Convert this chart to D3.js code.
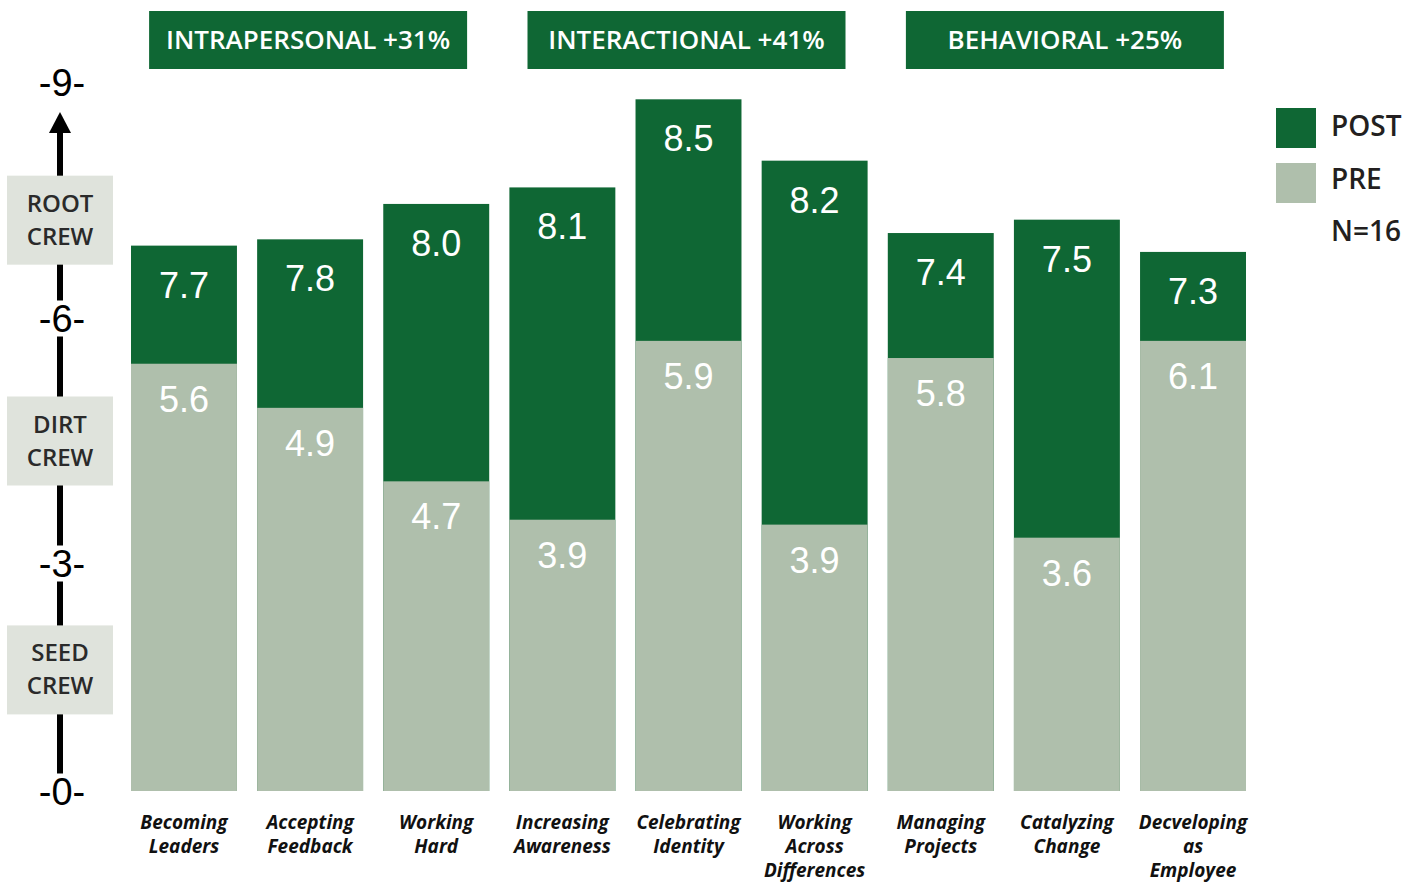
<!DOCTYPE html>
<html>
<head>
<meta charset="utf-8">
<script src="https://cdn.jsdelivr.net/npm/d3@7"></script>
<style>
  body { margin: 0; background: #fff; }
  svg { display: block; }
</style>
</head>
<body>
<div id="chart"></div>
<script>
// competency scores, pre vs post

const categories = [
  ["Becoming", "Leaders"],
  ["Accepting", "Feedback"],
  ["Working", "Hard"],
  ["Increasing", "Awareness"],
  ["Celebrating", "Identity"],
  ["Working", "Across", "Differences"],
  ["Managing", "Projects"],
  ["Catalyzing", "Change"],
  ["Decveloping", "as", "Employee"]
];

// bar heights as drawn against the axis
const postHeight = [6.92, 7.00, 7.45, 7.66, 8.78, 8.00, 7.08, 7.25, 6.84];
const preHeight  = [5.44, 4.90, 4.00, 3.53, 5.72, 3.47, 5.51, 3.31, 5.72];

// printed values
const postLabel = ["7.7", "7.8", "8.0", "8.1", "8.5", "8.2", "7.4", "7.5", "7.3"];
const preLabel  = ["5.6", "4.9", "4.7", "3.9", "5.9", "3.9", "5.8", "3.6", "6.1"];

const groups = [
  { name: "INTRAPERSONAL +31%", from: 0, to: 2 },
  { name: "INTERACTIONAL +41%", from: 3, to: 5 },
  { name: "BEHAVIORAL +25%",    from: 6, to: 8 }
];

const yTicks = [0, 3, 6, 9];
const crews = [["ROOT", "CREW"], ["DIRT", "CREW"], ["SEED", "CREW"]];
const crewMid = [7.25, 4.5, 1.6];

const legendItems = ["POST", "PRE"];
const sampleNote = "N=16";

const DARK = "#0f6734";
const LIGHT = "#afbfac";
const BOXGRAY = "#dfe3dc";

const W = 1417, H = 883;

const svg = d3.select("#chart")
  .append("svg")
  .attr("width", W)
  .attr("height", H);

// skala
const x = d3.scaleBand()
  .domain(d3.range(categories.length))
  .range([131, 1246])
  .paddingInner(0.16)
  .paddingOuter(0);

const y = d3.scaleLinear()
  .domain(yTicks)
  .range([791, 563, 318, 82]);

// post bars (behind)
svg.selectAll(".bar-post")
  .data(postHeight)
  .enter()
  .append("rect")
  .attr("class", "bar-post")
  .attr("x", (d, i) => x(i))
  .attr("width", x.bandwidth())
  .attr("y", d => y(d))
  .attr("height", d => y(0) - y(d))
  .attr("fill", DARK);

// pre bars (front)
svg.selectAll(".bar-pre")
  .data(preHeight)
  .enter()
  .append("rect")
  .attr("class", "bar-pre")
  .attr("x", (d, i) => x(i))
  .attr("width", x.bandwidth())
  .attr("y", d => y(d))
  .attr("height", d => y(0) - y(d))
  .attr("fill", LIGHT);

// value labels
const valFont = "'Liberation Sans', Arial, sans-serif";
svg.selectAll(".lbl-post")
  .data(postHeight)
  .enter()
  .append("text")
  .attr("x", (d, i) => x(i) + x.bandwidth() / 2)
  .attr("y", d => y(d) + 52)
  .attr("text-anchor", "middle")
  .attr("fill", "#fff")
  .attr("font-family", valFont)
  .attr("font-size", "36px")
  .text((d, i) => postLabel[i]);

svg.selectAll(".lbl-pre")
  .data(preHeight)
  .enter()
  .append("text")
  .attr("x", (d, i) => x(i) + x.bandwidth() / 2)
  .attr("y", d => y(d) + 48)
  .attr("text-anchor", "middle")
  .attr("fill", "#fff")
  .attr("font-family", valFont)
  .attr("font-size", "36px")
  .text((d, i) => preLabel[i]);

// category labels
const catFont = "'Open Sans', 'Noto Sans', sans-serif";
categories.forEach((lines, i) => {
  const t = svg.append("text")
    .attr("x", x(i) + x.bandwidth() / 2)
    .attr("y", 829)
    .attr("text-anchor", "middle")
    .attr("font-family", catFont)
    .attr("font-size", "19px")
    .attr("font-weight", "700")
    .attr("font-style", "italic")
    .attr("fill", "#111");
  lines.forEach((ln, j) => {
    t.append("tspan")
      .attr("x", x(i) + x.bandwidth() / 2)
      .attr("dy", j === 0 ? 0 : 24)
      .text(ln);
  });
});

// group headers
groups.forEach(g => {
  const cx = (x(g.from) + x(g.to) + x.bandwidth()) / 2;
  svg.append("rect")
    .attr("x", cx - 161)
    .attr("y", 11)
    .attr("width", 318)
    .attr("height", 58)
    .attr("fill", DARK);
  svg.append("text")
    .attr("x", cx - 2)
    .attr("y", 49)
    .attr("text-anchor", "middle")
    .attr("fill", "#fff")
    .attr("font-family", catFont)
    .attr("font-size", "26px")
    .attr("font-weight", "600")
    .text(g.name);
});

// sumbu y — garis hitam dengan panah
const axisX = 60;
svg.append("line")
  .attr("x1", axisX).attr("x2", axisX)
  .attr("y1", y(0) - 10)
  .attr("y2", y(9) + 46)
  .attr("stroke", "#000")
  .attr("stroke-width", 6);

svg.append("path")
  .attr("d", `M${axisX},${y(9) + 30} L${axisX - 11},${y(9) + 51} L${axisX + 11},${y(9) + 51} Z`)
  .attr("fill", "#000");

const yAxis = svg.append("g")
  .attr("transform", `translate(${axisX},0)`)
  .call(d3.axisLeft(y).tickValues(yTicks).tickSize(0).tickFormat(d => `-${d}-`));

yAxis.select(".domain").remove();
yAxis.selectAll(".tick")
  .insert("rect", "text")
  .attr("x", -22)
  .attr("y", -18)
  .attr("width", 44)
  .attr("height", 36)
  .attr("fill", "#fff");
yAxis.selectAll(".tick text")
  .attr("x", 2)
  .attr("dy", "0.36em")
  .attr("text-anchor", "middle")
  .attr("fill", "#000")
  .attr("font-family", valFont)
  .attr("font-size", "38px");

// crew boxes
crews.forEach((lines, i) => {
  const cy = y(crewMid[i]);
  svg.append("rect")
    .attr("x", axisX - 53)
    .attr("y", cy - 44)
    .attr("width", 106)
    .attr("height", 89)
    .attr("fill", BOXGRAY);
  lines.forEach((ln, j) => {
    svg.append("text")
      .attr("x", axisX)
      .attr("y", cy - 8 + j * 33)
      .attr("text-anchor", "middle")
      .attr("fill", "#2a2a2a")
      .attr("font-family", catFont)
      .attr("font-size", "24px")
      .attr("font-weight", "600")
      .text(ln);
  });
});

// legend
const legendColor = d3.scaleOrdinal().domain(legendItems).range([DARK, LIGHT]);
legendItems.forEach((k, i) => {
  svg.append("rect")
    .attr("x", 1276)
    .attr("y", 108 + i * 55)
    .attr("width", 40)
    .attr("height", 40)
    .attr("fill", legendColor(k));
  svg.append("text")
    .attr("x", 1331)
    .attr("y", 136 + i * 53)
    .attr("fill", "#231f20")
    .attr("font-family", catFont)
    .attr("font-size", "28px")
    .attr("font-weight", "600")
    .text(k);
});
svg.append("text")
  .attr("x", 1331)
  .attr("y", 241)
  .attr("fill", "#231f20")
  .attr("font-family", catFont)
  .attr("font-size", "28px")
  .attr("font-weight", "600")
  .text(sampleNote);
</script>
</body>
</html>
